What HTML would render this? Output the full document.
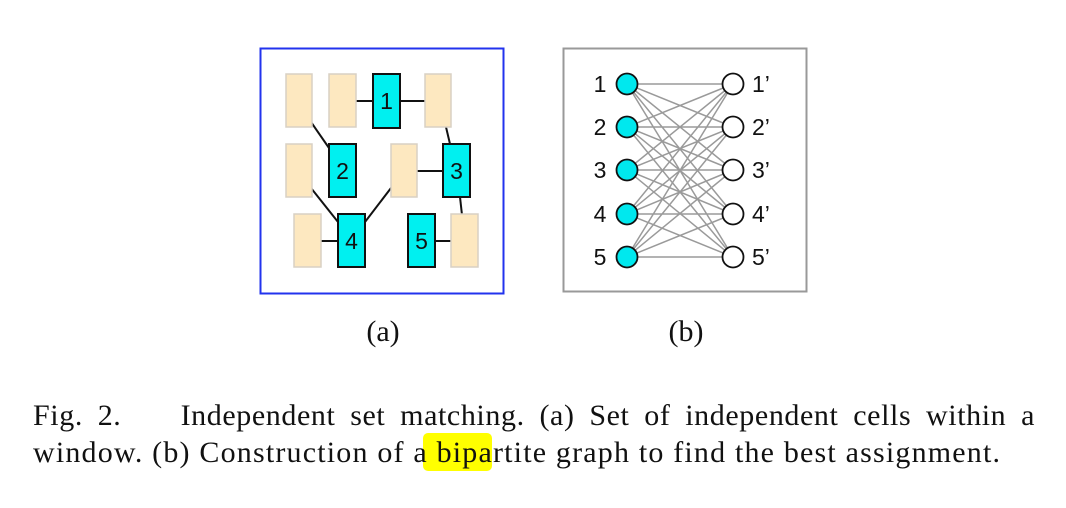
<!DOCTYPE html>
<html><head><meta charset="utf-8"><style>
body{margin:0;width:1066px;height:508px;background:#fff;position:relative;overflow:hidden;font-family:"Liberation Serif",serif;}
.l{position:absolute;left:33px;width:1002px;font-size:30px;line-height:37px;color:#111;letter-spacing:0.6px;}
</style></head><body>
<svg width="1066" height="508" style="position:absolute;left:0;top:0">
<rect x="260.5" y="48.5" width="243" height="245" fill="none" stroke="#2233ee" stroke-width="2"/>
<g stroke="#111" stroke-width="2">
<line x1="356" y1="101" x2="373" y2="101"/><line x1="400" y1="101" x2="425" y2="101"/>
<line x1="311" y1="122" x2="329" y2="148"/><line x1="446" y1="127" x2="450" y2="144"/>
<line x1="417" y1="171" x2="443" y2="171"/><line x1="460" y1="197" x2="462" y2="215"/>
<line x1="311" y1="188" x2="338" y2="222"/><line x1="391" y1="188" x2="365" y2="222"/>
<line x1="321" y1="241" x2="338" y2="241"/><line x1="435" y1="241" x2="451" y2="241"/>
</g>
<g fill="#fde8c0" stroke="#d8d0c4" stroke-width="1.5">
<rect x="286" y="74" width="26" height="53"/><rect x="329" y="74" width="27" height="53"/><rect x="425" y="74" width="26" height="53"/>
<rect x="286" y="144" width="26" height="53"/><rect x="391" y="144" width="26" height="53"/>
<rect x="294" y="214" width="27" height="53"/><rect x="451" y="214" width="27" height="53"/>
</g>
<g fill="#00f0f0" stroke="#111" stroke-width="2">
<rect x="373" y="74" width="27" height="54"/><rect x="329" y="144" width="27" height="53"/><rect x="443" y="144" width="27" height="53"/>
<rect x="338" y="214" width="27" height="53"/><rect x="408" y="214" width="27" height="53"/>
</g>
<g font-family="Liberation Sans,sans-serif" font-size="23" text-anchor="middle" fill="#111">
<text x="386.5" y="109">1</text><text x="342.5" y="179">2</text><text x="456.5" y="179">3</text><text x="351.5" y="249">4</text><text x="421.5" y="249">5</text>
</g>
<rect x="563.5" y="48.5" width="243" height="243" fill="none" stroke="#999" stroke-width="2"/>
<g stroke="#9a9a9a" stroke-width="1.5">
<path d="M627 84L733 84M627 84L733 127M627 84L733 170M627 84L733 214M627 84L733 257
M627 127L733 84M627 127L733 127M627 127L733 170M627 127L733 214M627 127L733 257
M627 170L733 84M627 170L733 127M627 170L733 170M627 170L733 214M627 170L733 257
M627 214L733 84M627 214L733 127M627 214L733 170M627 214L733 214M627 214L733 257
M627 257L733 84M627 257L733 127M627 257L733 170M627 257L733 214M627 257L733 257"/>
</g>
<g stroke="#111" stroke-width="1.8">
<g fill="#00e8ee"><circle cx="627" cy="84" r="10.5"/><circle cx="627" cy="127" r="10.5"/><circle cx="627" cy="170" r="10.5"/><circle cx="627" cy="214" r="10.5"/><circle cx="627" cy="257" r="10.5"/></g>
<g fill="#fff"><circle cx="733" cy="84" r="10.5"/><circle cx="733" cy="127" r="10.5"/><circle cx="733" cy="170" r="10.5"/><circle cx="733" cy="214" r="10.5"/><circle cx="733" cy="257" r="10.5"/></g>
</g>
<g font-family="Liberation Sans,sans-serif" font-size="23" fill="#111">
<g text-anchor="middle"><text x="600" y="92">1</text><text x="600" y="135">2</text><text x="600" y="178">3</text><text x="600" y="222">4</text><text x="600" y="265">5</text></g>
<text x="752" y="92">1’</text><text x="752" y="135">2’</text><text x="752" y="178">3’</text><text x="752" y="222">4’</text><text x="752" y="265">5’</text>
</g>
<g font-family="Liberation Serif,serif" font-size="30" text-anchor="middle" fill="#111">
<text x="383" y="341">(a)</text><text x="686" y="341">(b)</text>
</g>
<rect x="423" y="433" width="69" height="38" rx="5" fill="#ffff00"/>
<text x="33" y="462" font-family="Liberation Serif,serif" font-size="30" fill="#111" textLength="967" lengthAdjust="spacing">window. (b) Construction of a bipartite graph to find the best assignment.</text>
</svg>
<div class="l" style="top:397px;text-align:justify;text-align-last:justify;">Fig. 2.&nbsp;&nbsp;&nbsp; Independent set matching. (a) Set of independent cells within a</div>
</body></html>
